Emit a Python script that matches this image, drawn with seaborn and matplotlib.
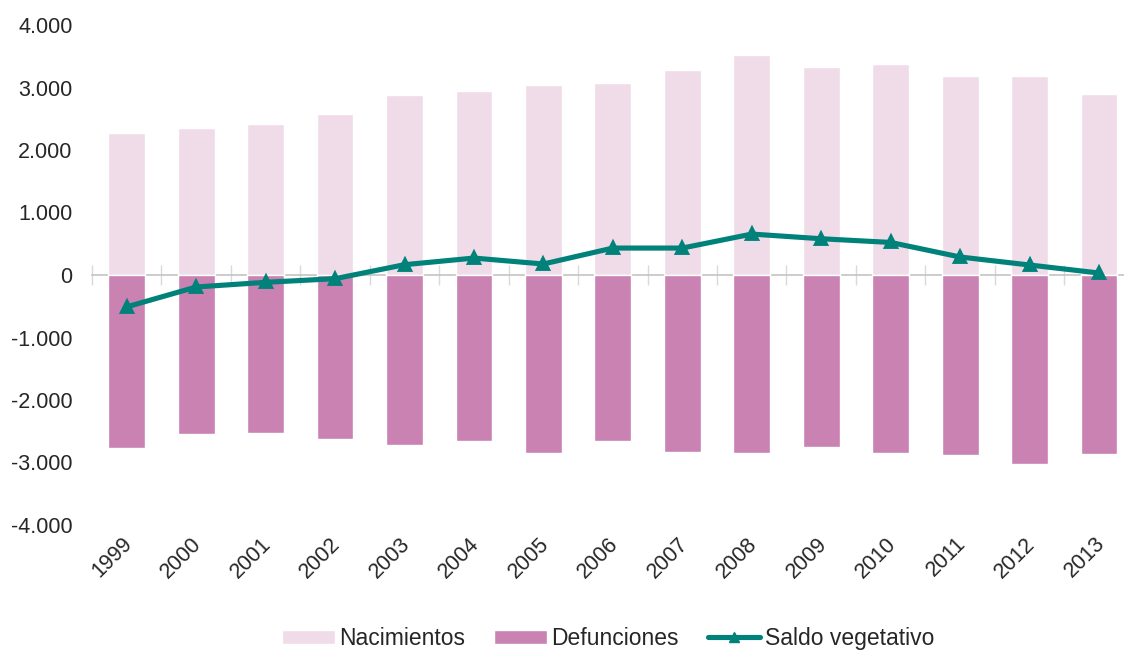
import numpy as np
import matplotlib
matplotlib.use("Agg")
import matplotlib.pyplot as plt
import matplotlib.transforms as mtransforms
from matplotlib.patches import Patch
from matplotlib.lines import Line2D
from matplotlib.ticker import FuncFormatter
import seaborn as sns

# data
years = ["1999", "2000", "2001", "2002", "2003", "2004", "2005", "2006",
         "2007", "2008", "2009", "2010", "2011", "2012", "2013"]
nacimientos = [2275, 2350, 2414, 2578, 2877, 2946, 3042, 3074,
               3277, 3521, 3335, 3378, 3181, 3191, 2903]
defunciones = [-2766, -2537, -2521, -2628, -2718, -2660, -2852, -2649,
               -2836, -2852, -2745, -2847, -2879, -3017, -2863]
saldo = [-510, -192, -117, -59, 165, 271, 176, 431,
         431, 655, 580, 521, 288, 160, 32]

c_nac = "#efdce8"
c_def = "#c982b2"
c_saldo = "#00827a"
txt = "#262626"

sns.set_style("white")
plt.rcParams["font.family"] = ["Liberation Sans", "DejaVu Sans"]
fs = 15.5

fig = plt.figure(figsize=(11.24, 6.53), dpi=100)
ax = fig.add_axes([92 / 1124, 1 - 525 / 653, 1 - 92 / 1124, 500 / 653])

sns.barplot(x=years, y=nacimientos, color=c_nac, saturation=1, width=0.53, ax=ax)
sns.barplot(x=years, y=defunciones, color=c_def, saturation=1, width=0.53, ax=ax)
sns.pointplot(x=years, y=saldo, color=c_saldo, markers="^", markersize=7,
              linewidth=3.7, ax=ax)

ax.set_xlim(-0.5, 14.36)
ax.set_ylim(-4000, 4000)
ax.set_yticks(np.arange(-4000, 4001, 1000))
ax.yaxis.set_major_formatter(FuncFormatter(lambda v, p: f"{int(v):,}".replace(",", ".")))
for s in ax.spines.values():
    s.set_visible(False)
ax.tick_params(axis="y", length=0, pad=14, labelsize=fs, labelcolor=txt)
ax.tick_params(axis="x", length=0, pad=6, labelsize=fs, labelcolor=txt)
ax.set_xlabel("")
ax.set_ylabel("")

offset = mtransforms.ScaledTranslation(-5 / 100, 0, fig.dpi_scale_trans)
for lab in ax.get_xticklabels():
    lab.set_rotation(45)
    lab.set_ha("right")
    lab.set_va("top")
    lab.set_rotation_mode("anchor")
    lab.set_transform(lab.get_transform() + offset)

# zero axis with category boundary ticks
sec = ax.secondary_xaxis(0.5)
sec.set_xticks(np.arange(-0.5, 15, 1))
sec.set_xticklabels([])
sec.tick_params(direction="inout", length=14, width=1, color="#d9d9d9")
for name, s in sec.spines.items():
    s.set_visible(name == "bottom")
sec.spines["bottom"].set_color("#c4c4c4")
sec.spines["bottom"].set_linewidth(1.2)

handles = [
    Patch(facecolor=c_nac, label="Nacimientos"),
    Patch(facecolor=c_def, label="Defunciones"),
    Line2D([], [], color=c_saldo, lw=3.7, marker="^", markersize=7, label="Saldo vegetativo"),
]
fig.legend(handles=handles, loc="center", bbox_to_anchor=(0.541, 0.022),
           ncol=3, frameon=False, fontsize=16.5, handlelength=2.3, handleheight=0.6,
           handletextpad=0.18, columnspacing=1.27, labelcolor=txt)

fig.savefig("out.png", dpi=100)
